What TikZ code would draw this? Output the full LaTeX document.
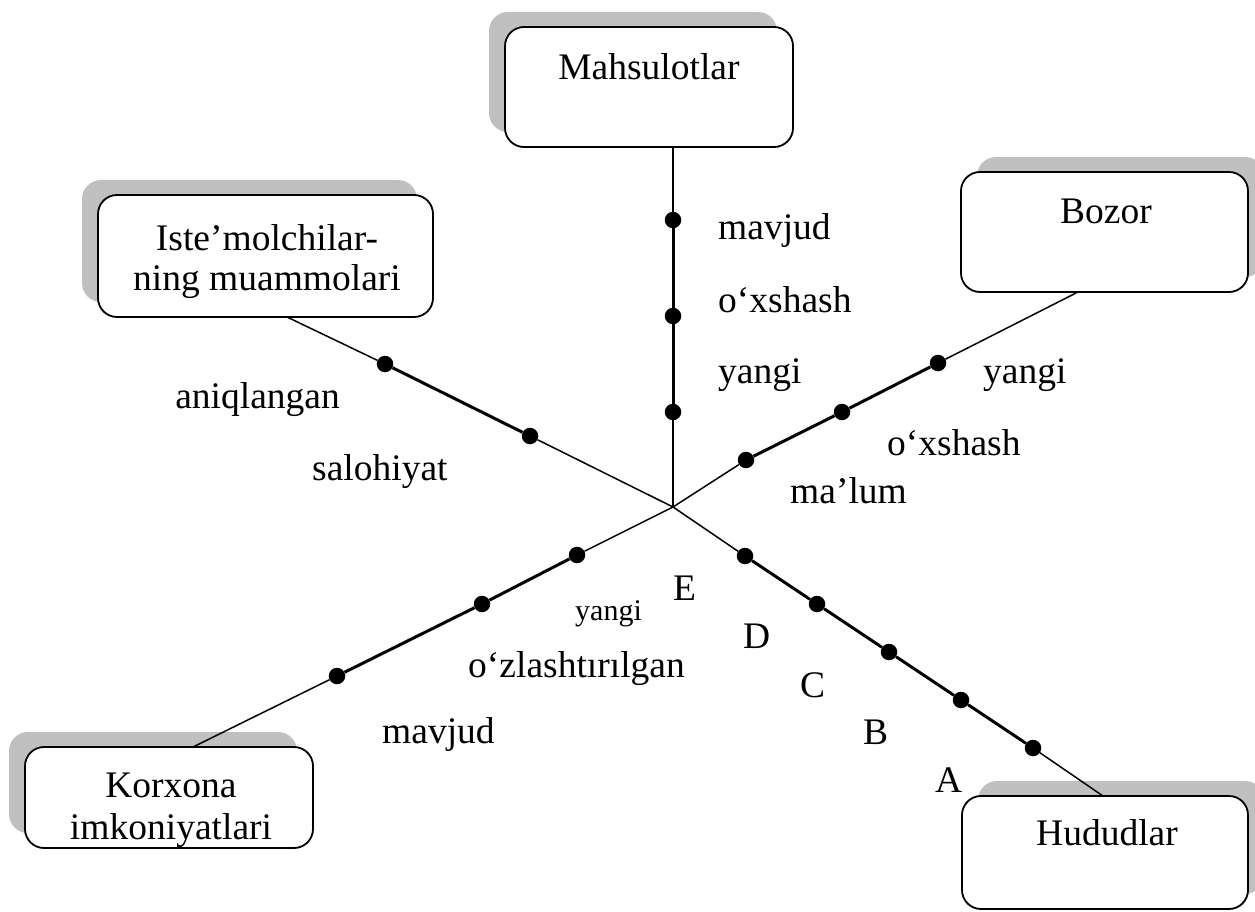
\documentclass[tikz,border=0pt]{standalone}
\usepackage{fontspec}
\setmainfont{Liberation Serif}
\usetikzlibrary{shadows}
\definecolor{shadowgray}{RGB}{192,192,192}
\begin{document}
\begin{tikzpicture}[x=1pt,y=-1pt,
  box/.style={draw=black, line width=1.8pt, fill=white, rounded corners=19pt,
    inner sep=0pt},
  shadeleft/.style={general shadow={fill=shadowgray, draw=none,
    shadow xshift=-16pt, shadow yshift=15pt}},
  shaderight/.style={general shadow={fill=shadowgray, draw=none,
    shadow xshift=16pt, shadow yshift=15pt}},
  thinline/.style={line width=1.5pt},
  thickline/.style={line width=3pt},
  dot/.style={circle, fill=black, inner sep=0pt, minimum size=16.5pt},
  txt/.style={inner sep=0pt, font=\fontsize{37.5}{42}\selectfont},
  lbl/.style={txt, anchor=base west},
  boxtxt/.style={txt, anchor=base},
]
\clip (0,0) rectangle (1255,912);
\useasboundingbox (0,0) rectangle (1255,912);

% boxes
\node[box, shadeleft, minimum width=288pt, minimum height=120pt] (mahs) at (649,87) {};
\node[box, shaderight, minimum width=287pt, minimum height=120pt] (bozor) at (1104.5,232) {};
\node[box, shadeleft, minimum width=335pt, minimum height=122pt] (iste) at (265.5,256) {};
\node[box, shadeleft, minimum width=288pt, minimum height=101pt] (korx) at (169,797.5) {};
\node[box, shaderight, minimum width=286pt, minimum height=113pt] (hudud) at (1105,852.5) {};

% box texts
\node[boxtxt] (tmahs) at (649,80) {Mahsulotlar};
\node[boxtxt] (tbozor) at (1106,223) {Bozor};
\node[boxtxt] (tiste1) at (267,250) {Iste’molchilar-};
\node[boxtxt] (tiste2) at (267,290) {ning muammolari};
\node[boxtxt] (tkorx1) at (171,797) {Korxona};
\node[boxtxt] (tkorx2) at (171,839) {imkoniyatlari};
\node[boxtxt] (thudud) at (1107,845) {Hududlar};

% hub and attachment points
\coordinate (c) at (673,507);
\coordinate (mEnd) at (673,147);
\coordinate (bEnd) at (1078,292);
\coordinate (iEnd) at (287,317);
\coordinate (kEnd) at (193,747);
\coordinate (hEnd) at (1103,796);

% scale marks
\node[dot] (v1) at (673,220) {};
\node[dot] (v2) at (673,316) {};
\node[dot] (v3) at (673,412) {};
\node[dot] (b1) at (746,460) {};
\node[dot] (b2) at (842,412) {};
\node[dot] (b3) at (938,363) {};
\node[dot] (i1) at (530,436) {};
\node[dot] (i2) at (385,364) {};
\node[dot] (k1) at (577,555) {};
\node[dot] (k2) at (482,604) {};
\node[dot] (k3) at (337,676) {};
\node[dot] (h1) at (745,556) {};
\node[dot] (h2) at (817,604) {};
\node[dot] (h3) at (889,652) {};
\node[dot] (h4) at (961,700) {};
\node[dot] (h5) at (1033,748) {};

% axes
\draw[thinline] (c) -- (v3);
\draw[thickline] (v3) -- (v2) -- (v1);
\draw[thinline] (v1) -- (mEnd);

\draw[thinline] (c) -- (b1);
\draw[thickline] (b1) -- (b2) -- (b3);
\draw[thinline] (b3) -- (bEnd);

\draw[thinline] (c) -- (i1);
\draw[thickline] (i1) -- (i2);
\draw[thinline] (i2) -- (iEnd);

\draw[thinline] (c) -- (k1);
\draw[thickline] (k1) -- (k2) -- (k3);
\draw[thinline] (k3) -- (kEnd);

\draw[thinline] (c) -- (h1);
\draw[thickline] (h1) -- (h2) -- (h3) -- (h4) -- (h5);
\draw[thinline] (h5) -- (hEnd);

% axis labels
\node[lbl] (lm1) at (718,240) {mavjud};
\node[lbl] (lm2) at (718,312) {o‘xshash};
\node[lbl] (lm3) at (718,383) {yangi};

\node[lbl] (lb1) at (983,383) {yangi};
\node[lbl] (lb2) at (887,455) {o‘xshash};
\node[lbl] (lb3) at (790,503) {ma’lum};

\node[txt, anchor=base east] (li1) at (340,408) {aniqlangan};
\node[lbl] (li2) at (312,480) {salohiyat};

\node[lbl, font=\fontsize{30}{36}\selectfont] (lk1) at (575,620) {yangi};
\node[lbl] (lk2) at (468,677) {o‘zlashtırılgan};
\node[lbl] (lk3) at (382,743) {mavjud};

\node[lbl] (lE) at (673,600) {E};
\node[lbl] (lD) at (743,648) {D};
\node[lbl] (lC) at (800,697) {C};
\node[lbl] (lB) at (863,744) {B};
\node[lbl] (lA) at (935,792) {A};
\end{tikzpicture}
\end{document}
